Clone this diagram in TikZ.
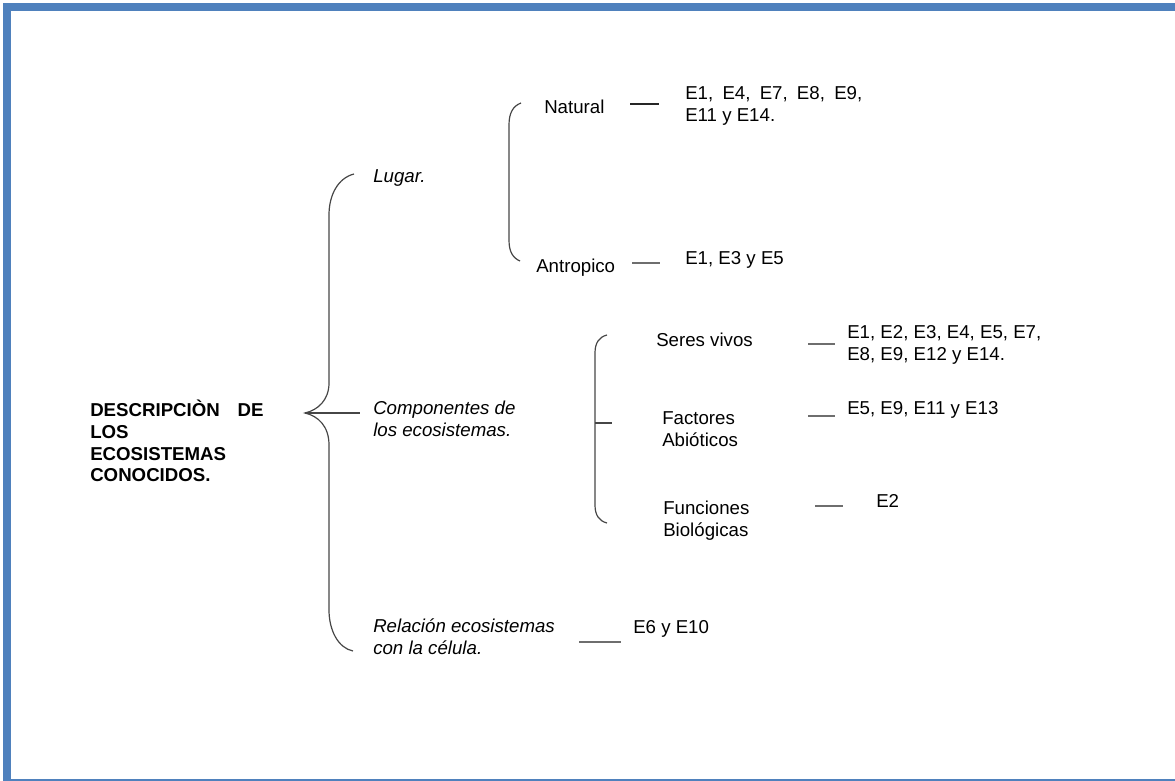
\documentclass[tikz,border=0pt]{standalone}
\usepackage{fontspec}
\setmainfont{Liberation Sans}
\definecolor{frameblue}{RGB}{79,129,189}
\definecolor{bracegray}{RGB}{70,70,70}
\definecolor{dashgray}{RGB}{110,110,110}
\begin{document}
\begin{tikzpicture}[x=0.75pt,y=-0.75pt,
  txt/.style={anchor=west,inner sep=0pt,align=left,font=\fontsize{14}{16.3}\selectfont},
  itxt/.style={txt,font=\fontsize{14}{16.3}\selectfont\itshape},
  brace/.style={draw=bracegray,line width=0.9pt},
  dashline/.style={draw=dashgray,line width=1.1pt},
  darkdash/.style={draw=black!85,line width=1.1pt}]
\useasboundingbox (0,0) rectangle (1175,781);
% frame
\fill[frameblue] (3,3) rectangle (1175,11);
\fill[frameblue] (3,3) rectangle (11,781);
\fill[frameblue] (3,778.5) rectangle (1175,780.5);
% root
\node[txt,font=\fontsize{14}{16.3}\selectfont\bfseries] (root) at (90,441)
  {\hbox to 130pt{DESCRIPCIÒN\hfill DE}\\LOS\\ECOSISTEMAS\\CONOCIDOS.};
% level 1
\node[itxt] (lugar) at (373,178) {Lugar.};
\node[itxt] (comp) at (373,419) {Componentes de\\los ecosistemas.};
\node[itxt] (rel) at (373,637) {Relación ecosistemas\\con la célula.};
% big brace
\coordinate (bt) at (354,174);
\coordinate (bb) at (353,651);
\coordinate (cusp) at (305,413);
\draw[brace] (bt) .. controls (338,178) and (329,195) .. (329,215) -- (329,383)
  .. controls (329,400) and (318,410) .. (cusp)
  .. controls (318,416) and (329,426) .. (329,445) -- (329,610)
  .. controls (329,630) and (338,648) .. (bb);
\draw[brace] (cusp) -- ([xshift=-10pt]comp.west |- cusp);
% Lugar sub-tree
\node[txt] (natural) at (544,107) {Natural};
\node[txt] (antro) at (536,268) {Antropico};
\node[txt] (enat) at (685,106) {\hbox to 132.75pt{E1,\hfill E4,\hfill E7,\hfill E8,\hfill E9,}\\E11 y E14.};
\node[txt] (eantro) at (685,260) {E1, E3 y E5};
\coordinate (lt) at (521,103);
\coordinate (lb) at (520,261);
\draw[brace] (lt) .. controls (513,106) and (509,113) .. (509,125) -- (509,240)
  .. controls (509,252) and (513,258) .. (lb);
\coordinate (nd1) at (630,104);
\coordinate (nd2) at (659,104);
\draw[darkdash] (nd1) -- (nd2);
\coordinate (ad1) at (632,263);
\coordinate (ad2) at (660,263);
\draw[dashline] (ad1) -- (ad2);
% Componentes sub-tree
\node[txt] (seres) at (656,340) {Seres vivos};
\node[txt] (fact) at (662,429) {Factores\\Abióticos};
\node[txt] (func) at (663,521) {Funciones\\Biológicas};
\node[txt] (eseres) at (847,345) {E1, E2, E3, E4, E5, E7,\\E8, E9, E12 y E14.};
\node[txt] (efact) at (847,410) {E5, E9, E11 y E13};
\node[txt] (efunc) at (876,501) {E2};
\coordinate (ct) at (607,335);
\coordinate (cb) at (607,523);
\coordinate (cm) at (595,423);
\coordinate (cm2) at (612,423);
\draw[brace] (ct) .. controls (599,337) and (595,343) .. (595,353) -- (595,505)
  .. controls (595,515) and (599,521) .. (cb);
\draw[brace] (cm) -- (cm2);
\coordinate (sd1) at (808,344);
\coordinate (sd2) at (835,344);
\draw[dashline] (sd1) -- (sd2);
\coordinate (fd1) at (808,416);
\coordinate (fd2) at (835,416);
\draw[dashline] (fd1) -- (fd2);
\coordinate (gd1) at (815,506);
\coordinate (gd2) at (843,506);
\draw[dashline] (gd1) -- (gd2);
% Relacion
\node[txt] (erel) at (633,629) {E6 y E10};
\coordinate (rd1) at (579,642);
\coordinate (rd2) at (621,642);
\draw[dashline] (rd1) -- (rd2);
\end{tikzpicture}
\end{document}
